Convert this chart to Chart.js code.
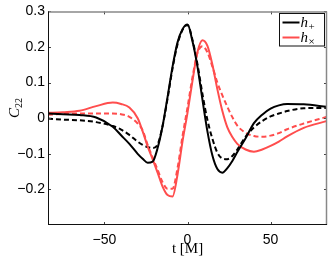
<!DOCTYPE html>
<html>
<head>
<meta charset="utf-8">
<script src="https://cdn.jsdelivr.net/npm/chart.js@4.4.1/dist/chart.umd.min.js"></script>
<style>
html,body{margin:0;padding:0;background:#fff;}
#wrap{width:332px;height:261px;}
</style>
</head>
<body>
<div id="wrap"><canvas id="c" width="332" height="261"></canvas></div>
<script>
const tValues = [-84,-75,-65,-55,-45,-40,-35,-30,-27,-24,-21,-18,-15,-12,-9,-6,-3,0,3,6,9,12,15,18,21,24,27,30,35,40,45,50,55,60,70,84];
const hPlusSolid = [0.013,0.011,0.009,0.002,-0.024,-0.048,-0.072,-0.100,-0.114,-0.125,-0.122,-0.084,-0.022,0.060,0.145,0.213,0.250,0.263,0.216,0.145,0.052,-0.037,-0.105,-0.143,-0.153,-0.140,-0.120,-0.095,-0.056,-0.014,0.010,0.027,0.036,0.040,0.039,0.032];
const hPlusDashed = [-0.001,-0.004,-0.006,-0.011,-0.022,-0.032,-0.047,-0.066,-0.075,-0.081,-0.084,-0.074,-0.022,0.055,0.140,0.208,0.248,0.262,0.220,0.152,0.068,-0.005,-0.058,-0.097,-0.113,-0.115,-0.106,-0.088,-0.052,-0.026,-0.008,0.005,0.013,0.020,0.028,0.029];
const hCrossSolid = [0.015,0.017,0.021,0.034,0.044,0.040,0.030,0.000,-0.037,-0.079,-0.115,-0.153,-0.192,-0.216,-0.220,-0.158,-0.065,0.015,0.105,0.186,0.219,0.203,0.150,0.081,0.020,-0.026,-0.053,-0.072,-0.088,-0.094,-0.088,-0.078,-0.066,-0.051,-0.027,-0.008];
const hCrossDashed = [0.010,0.012,0.013,0.013,0.013,0.011,0.004,-0.015,-0.034,-0.075,-0.110,-0.145,-0.180,-0.198,-0.198,-0.140,-0.050,0.030,0.115,0.183,0.202,0.185,0.145,0.100,0.064,0.032,0.003,-0.021,-0.041,-0.050,-0.052,-0.049,-0.042,-0.031,-0.015,0.004];
const xTicks = [-50,0,50];
const yTicks = [-0.2,-0.1,0,0.1,0.2,0.3];
const xRange = [-84,84];
const yRange = [-0.3,0.3];

const BLACK = '#000000';
const RED = 'rgb(255,77,77)';
const pts = arr => tValues.map((t,i)=>({x:t,y:arr[i]}));
const fmt = v => { if (Math.abs(v) < 1e-9) return '0'; const s = (Math.round(v*10)/10).toString(); return s.replace('-', '\u2212'); };

const deco = {
  id:'deco',
  afterDraw(chart){
    const ctx = chart.ctx, a = chart.chartArea, xs = chart.scales.x, ys = chart.scales.y;
    ctx.save();
    const line = (x1,y1,x2,y2)=>{ctx.beginPath();ctx.moveTo(x1,y1);ctx.lineTo(x2,y2);ctx.stroke();};
    // inward ticks
    ctx.strokeStyle = '#444'; ctx.lineWidth = 1;
    xTicks.forEach(v=>{const p=Math.round(xs.getPixelForValue(v))+0.5; line(p,a.bottom,p,a.bottom-3); line(p,a.top,p,a.top+3);});
    yTicks.forEach(v=>{const p=Math.round(ys.getPixelForValue(v))+0.5; line(a.left,p,a.left+3,p); line(a.right,p,a.right-3,p);});
    // frame
    ctx.strokeStyle = '#888'; ctx.lineWidth = 1.5;
    line(a.left, a.top+0.5, a.right, a.top+0.5);
    line(a.right-0.5, a.top, a.right-0.5, a.bottom);
    ctx.strokeStyle = '#111'; ctx.lineWidth = 1;
    line(a.left+0.5, a.top, a.left+0.5, a.bottom);
    line(a.left, a.bottom-0.5, a.right, a.bottom-0.5);
    // legend
    const bx=279.5, by=13.5, bw=45, bh=32.5;
    ctx.fillStyle='#fff'; ctx.fillRect(bx,by,bw,bh);
    ctx.strokeStyle='#111'; ctx.lineWidth=1; ctx.strokeRect(bx,by,bw,bh);
    const items=[{c:BLACK,s:'+',y:22.5},{c:RED,s:'\u00d7',y:37.5}];
    items.forEach(it=>{
      ctx.strokeStyle=it.c; ctx.lineWidth=2; line(282.5,it.y,299.5,it.y);
      ctx.fillStyle='#000'; ctx.textBaseline='alphabetic'; ctx.textAlign='left';
      ctx.font='italic 15px "Liberation Serif"'; ctx.fillText('h',300.5,it.y+4);
      ctx.font='11px "Liberation Serif"'; ctx.fillText(it.s,308.5,it.y+7);
    });
    // x title
    ctx.fillStyle='#000'; ctx.textAlign='center'; ctx.textBaseline='middle';
    ctx.font='15px "Liberation Serif"';
    ctx.fillText('t [M]', (a.left+a.right)/2, 249);
    // y title
    ctx.translate(14,108); ctx.rotate(-Math.PI/2);
    ctx.textAlign='left'; ctx.textBaseline='alphabetic';
    ctx.font='italic 15px "Liberation Serif"';
    const cw = ctx.measureText('C').width;
    ctx.font='10px "Liberation Serif"';
    const sw = ctx.measureText('22').width;
    const x0 = -(cw+sw)/2;
    ctx.font='italic 15px "Liberation Serif"'; ctx.fillText('C',x0,5);
    ctx.font='10px "Liberation Serif"'; ctx.fillText('22',x0+cw,8);
    ctx.restore();
  }
};

new Chart(document.getElementById('c'), {
  type:'line',
  data:{datasets:[
    {data:pts(hPlusSolid), borderColor:BLACK, borderWidth:2, pointRadius:0, cubicInterpolationMode:'monotone', fill:false},
    {data:pts(hCrossSolid), borderColor:RED, borderWidth:2, pointRadius:0, cubicInterpolationMode:'monotone', fill:false},
    {data:pts(hPlusDashed), borderColor:BLACK, borderWidth:2, borderDash:[5,3], pointRadius:0, cubicInterpolationMode:'monotone', fill:false},
    {data:pts(hCrossDashed), borderColor:RED, borderWidth:2, borderDash:[5,3], pointRadius:0, cubicInterpolationMode:'monotone', fill:false}
  ]},
  options:{
    responsive:false, animation:false, devicePixelRatio:1,
    layout:{padding:{left:0,right:5,top:11,bottom:0}},
    plugins:{legend:{display:false}, tooltip:{enabled:false}},
    scales:{
      x:{type:'linear', min:xRange[0], max:xRange[1],
        afterBuildTicks: s=>{ s.ticks = xTicks.map(v=>({value:v})); },
        afterFit: s=>{ s.height = 36; },
        grid:{display:false, drawTicks:false}, border:{display:false},
        ticks:{padding:7, maxRotation:0, autoSkip:false, color:'#000', font:{family:'"Liberation Sans"', size:14}, callback:v=>fmt(v)}
      },
      y:{type:'linear', min:yRange[0], max:yRange[1],
        afterBuildTicks: s=>{ s.ticks = yTicks.map(v=>({value:v})); },
        afterFit: s=>{ s.width = 48; },
        grid:{display:false, drawTicks:false}, border:{display:false},
        ticks:{padding:3, autoSkip:false, color:'#000', font:{family:'"Liberation Sans"', size:14}, callback:v=>fmt(v)}
      }
    }
  },
  plugins:[deco]
});
</script>
</body>
</html>
